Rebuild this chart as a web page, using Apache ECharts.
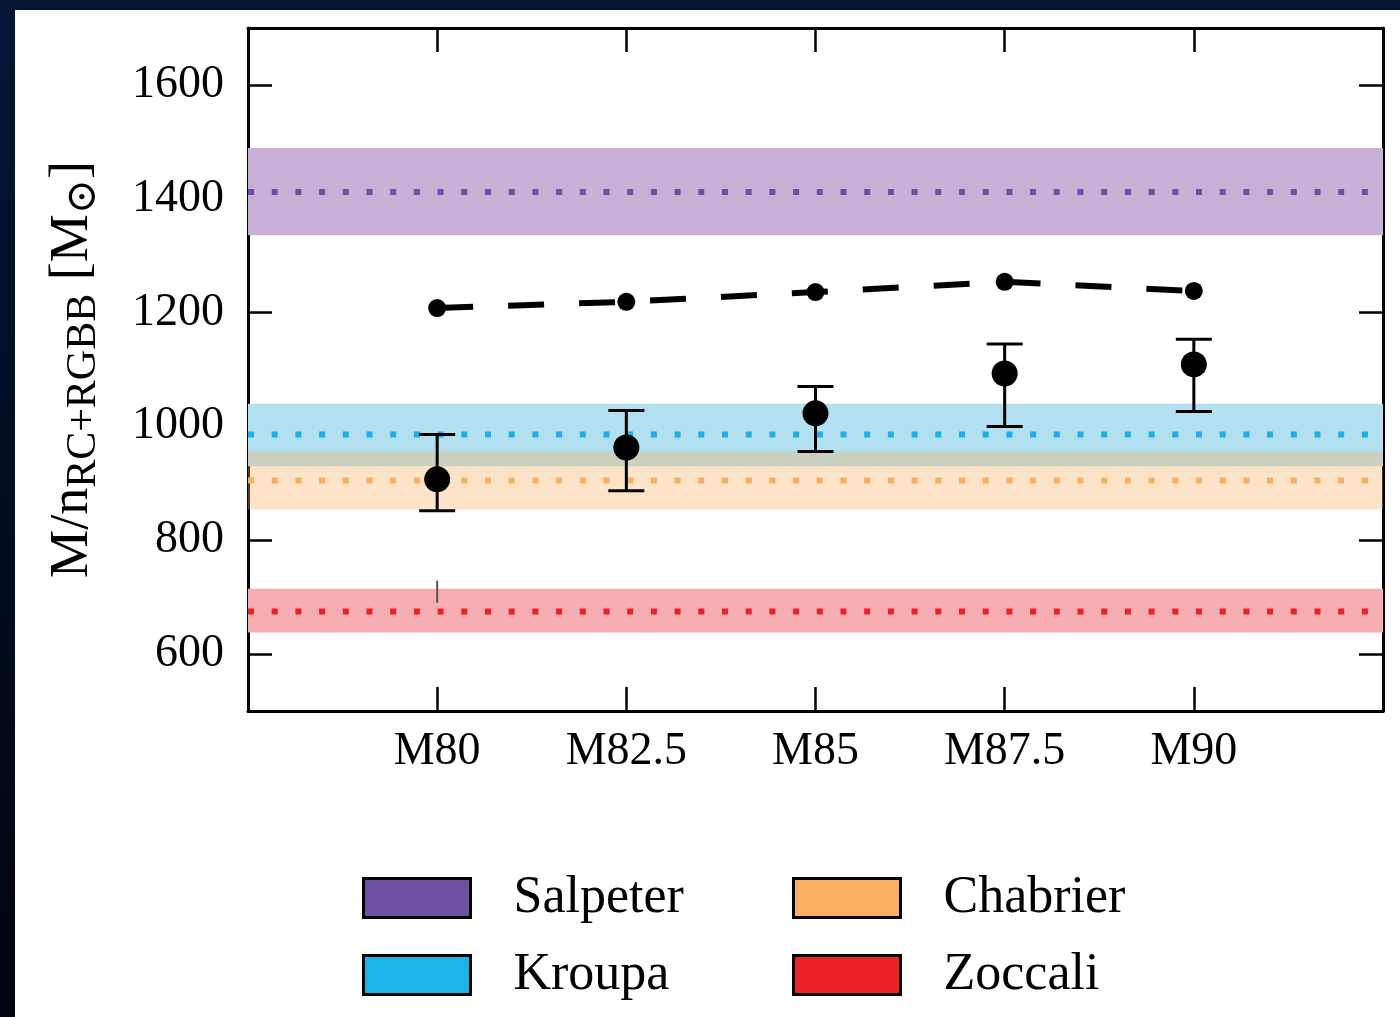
<!DOCTYPE html>
<html>
<head>
<meta charset="utf-8">
<script src="https://cdn.jsdelivr.net/npm/echarts@6/dist/echarts.min.js"></script>
<style>
  html, body { margin: 0; padding: 0; }
  body {
    width: 1400px; height: 1017px; overflow: hidden; position: relative;
    background: linear-gradient(to bottom, #021634, #01040f);
  }
  #panel { position: absolute; left: 15px; top: 10px; right: 0; bottom: 0; background: #fff; }
  #chart { position: absolute; left: 0; top: 0; width: 1400px; height: 1017px; }
</style>
</head>
<body>
<div id="panel"></div>
<div id="chart"></div>
<script>
const cats = ['M80', 'M82.5', 'M85', 'M87.5', 'M90']
const catPos = [0, 1, 2, 3, 4]
const modelVals = [1208, 1219, 1236, 1254, 1238]
const obsVals = [907, 963, 1023, 1093, 1109]
const obsLow = [852, 887, 956, 1000, 1026]
const obsHigh = [986, 1028, 1070, 1145, 1153]

const bandNames = ['Salpeter', 'Kroupa', 'Chabrier', 'Zoccali']
const bandLow = [1336, 930, 854, 638]
const bandMid = [1412, 986, 905, 675]
const bandHigh = [1489, 1040, 956, 715]

const yTicks = [600, 800, 1000, 1200, 1400, 1600]

// stray mark under M80
const strayPos = [0]
const strayLow = [690]
const strayHigh = [729]

const FONT = '"Liberation Serif", "DejaVu Serif", serif'
const bandFill = ['#c9b0d6', '#b2e0f0', 'rgba(248,176,98,0.34)', '#f5adb1']
const dotColor = ['#6a51a3', '#1ab0e8', '#f9ad5f', '#ec2025']
const legendColor = ['#6b52a1', '#1cb3e6', '#f8b062', '#ec2227']
// legend slots: [left, top]
const legendSlots = [[362, 872], [362, 949], [792, 872], [792, 949]]

let myChart = echarts.init(document.getElementById('chart'))

function bandSeries(i) {
  return {
    name: bandNames[i],
    type: 'custom',
    z: 1,
    itemStyle: {color: legendColor[i]},
    data: [[bandLow[i], bandMid[i], bandHigh[i]]],
    encode: {y: [0, 1, 2]},
    renderItem: function (params, api) {
      let cs = params.coordSys
      let top = api.coord([0, api.value(2)])[1]
      let bot = api.coord([0, api.value(0)])[1]
      let mid = api.coord([0, api.value(1)])[1]
      return {
        type: 'group',
        children: [
          {type: 'rect', shape: {x: cs.x, y: top, width: cs.width, height: bot - top},
            style: {fill: bandFill[i]}},
          {type: 'line', shape: {x1: cs.x, y1: mid, x2: cs.x + cs.width, y2: mid},
            style: {stroke: dotColor[i], lineWidth: 6, lineDash: [6, 17.7], lineCap: 'butt'}}
        ]
      }
    }
  }
}

function errorRender(capW, color, width) {
  return function (params, api) {
    let hi = api.coord([api.value(0), api.value(2)])
    let lo = api.coord([api.value(0), api.value(1)])
    let kids = [{type: 'line', shape: {x1: hi[0], y1: hi[1], x2: lo[0], y2: lo[1]},
      style: {stroke: color, lineWidth: width}}]
    if (capW > 0) {
      kids.push({type: 'line', shape: {x1: hi[0] - capW / 2, y1: hi[1], x2: hi[0] + capW / 2, y2: hi[1]},
        style: {stroke: color, lineWidth: width}})
      kids.push({type: 'line', shape: {x1: lo[0] - capW / 2, y1: lo[1], x2: lo[0] + capW / 2, y2: lo[1]},
        style: {stroke: color, lineWidth: width}})
    }
    return {type: 'group', children: kids}
  }
}

let xAxisBase = {
  type: 'value',
  min: -1,
  max: 5,
  interval: 1,
  splitLine: {show: false},
  axisLine: {show: true, onZero: false, lineStyle: {color: '#000', width: 3}},
  axisTick: {show: true, inside: true, length: 24, customValues: catPos,
    lineStyle: {color: '#000', width: 2.5}},
}
let yAxisBase = {
  type: 'value',
  min: 500,
  max: 1700,
  splitLine: {show: false},
  axisLine: {show: true, onZero: false, lineStyle: {color: '#000', width: 3}},
  axisTick: {show: true, inside: true, length: 24, customValues: yTicks,
    lineStyle: {color: '#000', width: 2.5}},
}

let legends = bandNames.map((nm, i) => ({
  left: legendSlots[i][0],
  top: legendSlots[i][1],
  padding: 0,
  data: [nm],
  icon: 'rect',
  itemWidth: 107,
  itemHeight: 39,
  selectedMode: false,
  itemStyle: {borderColor: '#000', borderWidth: 3},
  textStyle: {fontFamily: FONT, fontSize: 52, color: '#000', padding: [0, 0, 0, 38]}
}))

myChart.setOption({
  animation: false,
  backgroundColor: 'transparent',
  grid: {left: 248, right: 17, top: 28, bottom: 306},
  xAxis: [
    Object.assign({}, xAxisBase, {
      position: 'bottom',
      axisLabel: {
        show: true, margin: 18, fontFamily: FONT, fontSize: 46, color: '#000',
        customValues: catPos,
        formatter: v => cats[catPos.indexOf(v)] || ''
      }
    }),
    Object.assign({}, xAxisBase, {
      position: 'top',
      axisLabel: {show: false}
    })
  ],
  yAxis: [
    Object.assign({}, yAxisBase, {
      position: 'left',
      axisLabel: {show: true, margin: 24, fontFamily: FONT, fontSize: 46, color: '#000',
        customValues: yTicks, formatter: v => String(v)},
      name: '{m|M/n}{s|RC+RGBB}{m| [M}{s|\u2299}{m|]}',
      nameLocation: 'middle',
      nameGap: 143,
      nameTextStyle: {
        fontFamily: FONT, color: '#000',
        rich: {
          m: {fontFamily: FONT, fontSize: 54, lineHeight: 64, verticalAlign: 'middle', color: '#000'},
          s: {fontFamily: FONT, fontSize: 42, lineHeight: 42, verticalAlign: 'bottom', color: '#000'}
        }
      }
    }),
    Object.assign({}, yAxisBase, {
      position: 'right',
      axisLabel: {show: false}
    })
  ],
  legend: legends,
  series: [
    bandSeries(0),
    bandSeries(1),
    bandSeries(2),
    bandSeries(3),
    {
      name: 'stray',
      type: 'custom',
      z: 2,
      data: strayPos.map((x, i) => [x, strayLow[i], strayHigh[i]]),
      renderItem: errorRender(0, '#555', 2)
    },
    {
      name: 'model',
      type: 'line',
      z: 3,
      data: catPos.map((x, i) => [x, modelVals[i]]),
      symbol: 'circle',
      symbolSize: 18,
      itemStyle: {color: '#000'},
      lineStyle: {color: '#000', width: 6, type: [36, 35]}
    },
    {
      name: 'errors',
      type: 'custom',
      z: 4,
      data: catPos.map((x, i) => [x, obsLow[i], obsHigh[i]]),
      renderItem: errorRender(36, '#000', 3)
    },
    {
      name: 'obs',
      type: 'scatter',
      z: 5,
      data: catPos.map((x, i) => [x, obsVals[i]]),
      symbol: 'circle',
      symbolSize: 26,
      itemStyle: {color: '#000', opacity: 1}
    }
  ]
})
</script>
</body>
</html>
